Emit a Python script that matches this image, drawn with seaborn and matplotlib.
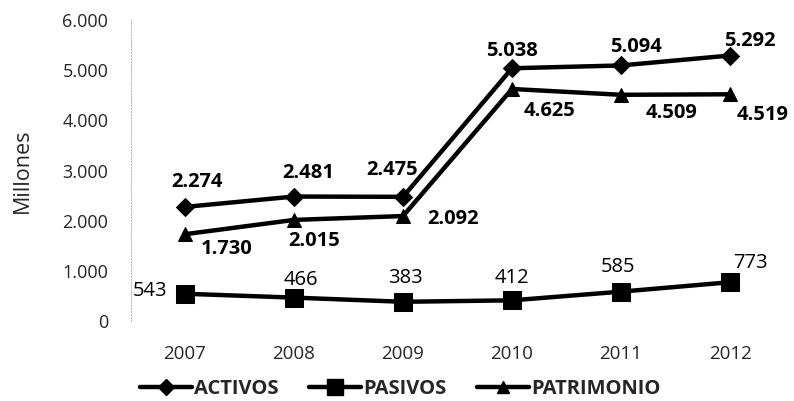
import matplotlib
matplotlib.use("Agg")
import matplotlib.pyplot as plt
import seaborn as sns
import pandas as pd
from matplotlib.lines import Line2D

years = ["2007", "2008", "2009", "2010", "2011", "2012"]
activos = [2274, 2481, 2475, 5038, 5094, 5292]
pasivos = [543, 466, 383, 412, 585, 773]
patrimonio = [1730, 2015, 2092, 4625, 4509, 4519]
series_names = ["ACTIVOS", "PASIVOS", "PATRIMONIO"]
yticks = [0, 1000, 2000, 3000, 4000, 5000, 6000]

def fmt(v):
    return f"{v:,}".replace(",", ".")

rows = []
for name, vals in zip(series_names, [activos, pasivos, patrimonio]):
    for i, v in enumerate(vals):
        rows.append({"year": i, "value": v, "serie": name})
df = pd.DataFrame(rows)

sns.set_style("white")
plt.rcParams["font.family"] = ["Open Sans", "DejaVu Sans"]

fig = plt.figure(figsize=(7.94, 4.01), dpi=100)
ax = fig.add_axes([130.5/794, 1 - 321/401, 654/794, 301/401])

markers = {"ACTIVOS": "D", "PASIVOS": "s", "PATRIMONIO": "^"}
msizes = {"ACTIVOS": 9, "PASIVOS": 13, "PATRIMONIO": 10}
for name in series_names:
    sub = df[df.serie == name]
    sns.lineplot(data=sub, x="year", y="value", ax=ax, color="black",
                 linewidth=3.2, marker=markers[name], markersize=msizes[name],
                 markeredgecolor="black", legend=False)

ax.set_xlim(-0.5, 5.5)
ax.set_ylim(0, 6000)
ax.set_yticks(yticks)
ax.set_yticklabels([fmt(v) for v in yticks], fontsize=13)
ax.set_xticks(range(len(years)))
ax.set_xticklabels(years, fontsize=13.5)
ax.tick_params(axis="y", length=0, pad=16)
ax.tick_params(axis="x", length=0, pad=17)
ax.set_xlabel("")
ax.set_ylabel("Millones", fontsize=15.5, labelpad=21)
for s in ["top", "right", "bottom"]:
    ax.spines[s].set_visible(False)
ax.spines["left"].set_color("#bbbbbb")
ax.spines["left"].set_linestyle(":")
ax.spines["left"].set_linewidth(0.8)

act_off = [(12, 25), (14, 24), (-11, 27), (0, 17), (15, 18), (20, 15)]
pas_off = [(-35, 3), (7, 18), (2, 24), (0, 22), (-3, 25), (20, 19)]
pat_off = [(42, -15), (20, -21), (50, -3), (38, -22), (51, -18), (33, -21)]

for vals, offs, bold in [(activos, act_off, True), (pasivos, pas_off, False),
                         (patrimonio, pat_off, True)]:
    for i, (v, o) in enumerate(zip(vals, offs)):
        ax.annotate(fmt(v), (i, v), xytext=o, textcoords="offset pixels",
                    ha="center", va="center", fontsize=14.5,
                    fontweight="bold" if bold else "normal", color="black")

handles = [Line2D([], [], color="black", linewidth=3.2, marker=markers[n],
                  markersize=msizes[n] - 1) for n in series_names]
fig.legend(handles, series_names, loc="center", ncol=3, frameon=False,
           bbox_to_anchor=(400/794, 1 - 389/401), handlelength=2.6,
           handletextpad=0.1, columnspacing=1.5, borderpad=0,
           prop={"weight": "bold", "size": 14.5})

fig.savefig("out.png", dpi=100)
